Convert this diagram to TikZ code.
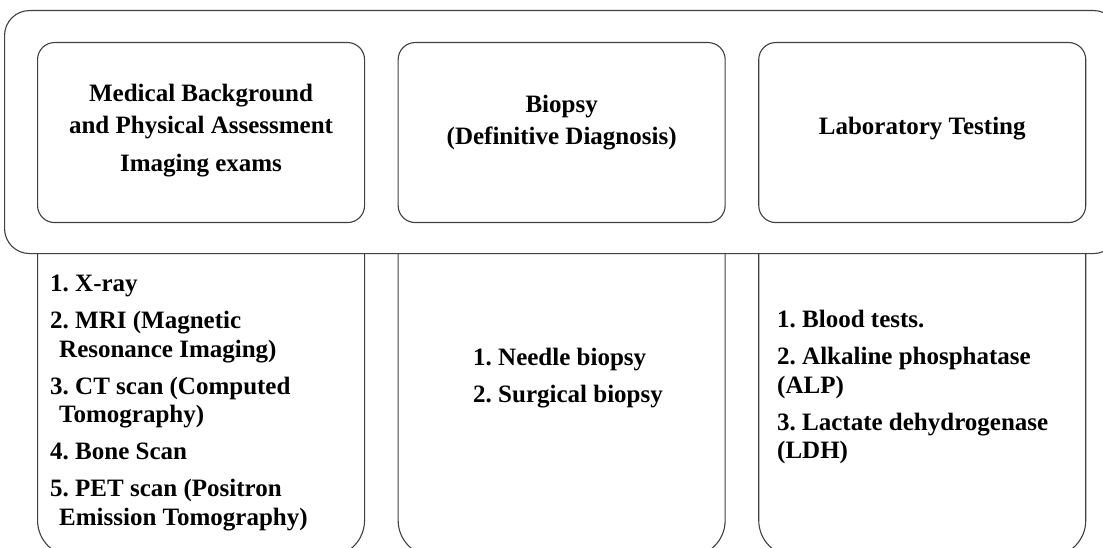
\documentclass[tikz,border=0pt]{standalone}
\usepackage{fontspec}
\setmainfont{Liberation Serif}
\frenchspacing
\usetikzlibrary{positioning}

\begin{document}
\begin{tikzpicture}[
    x=1pt, y=-1pt,
    node distance=32.5pt,
    outline/.style={
        draw=black!75,
        line width=1.1pt
    },
    topbox/.style={
        outline,
        fill=white,
        rounded corners=17pt,
        minimum width=327pt,
        minimum height=180pt,
        inner sep=0pt
    },
    listbox/.style={
        outline,
        rounded corners=36pt,
        minimum width=327pt,
        minimum height=357pt,
        inner sep=0pt
    },
    headtext/.style={
        font=\bfseries\fontsize{25}{32}\selectfont,
        align=center,
        inner sep=0pt
    },
    listtext/.style={
        font=\bfseries\fontsize{25}{28.5}\selectfont,
        align=left,
        inner sep=0pt,
        anchor=north west
    }
]
\useasboundingbox (0,0) rectangle (1103,548);
\clip (0,0) rectangle (1103,548);

% Lower boxes (tops hidden under the frame)
\node[listbox, anchor=south west] (imglist) at (37,557) {};
\node[listbox, right=of imglist] (biolist) {};
\node[listbox, right=of biolist] (lablist) {};

% Frame
\node[outline, fill=white, rounded corners=25pt, minimum width=1114pt,
      minimum height=243pt, inner sep=0pt, anchor=north west] (frame) at (4,10) {};

% Upper boxes
\node[topbox, anchor=north west] (imgtop) at (37,42) {};
\node[topbox, right=of imgtop] (biotop) {};
\node[topbox, right=of biotop] (labtop) {};

% Headings
\node[headtext] (imghead) at ([yshift=2pt]imgtop.center) {Medical Background\\and Physical Assessment\\[6pt]Imaging exams};
\node[headtext] (biohead) at ([yshift=10pt]biotop.center) {Biopsy\\(Definitive Diagnosis)};
\node[headtext] (labhead) at ([yshift=4pt]labtop.center) {Laboratory Testing};

% Lists
\node[listtext] (imgitems) at (50,275) {1. X-ray\\[8.5pt]2. MRI (Magnetic\\\hspace*{9pt}Resonance Imaging)\\[8.5pt]3. CT scan (Computed\\\hspace*{9pt}Tomography)\\[8.5pt]4. Bone Scan\\[8.5pt]5. PET scan (Positron\\\hspace*{9pt}Emission Tomography)};
\node[listtext] (bioitems) at (473,348) {1. Needle biopsy\\[8.5pt]2. Surgical biopsy};
\node[listtext] (labitems) at (777,310) {1. Blood tests.\\[8.5pt]2. Alkaline phosphatase\\(ALP)\\[8.5pt]3. Lactate dehydrogenase\\(LDH)};

\end{tikzpicture}
\end{document}
